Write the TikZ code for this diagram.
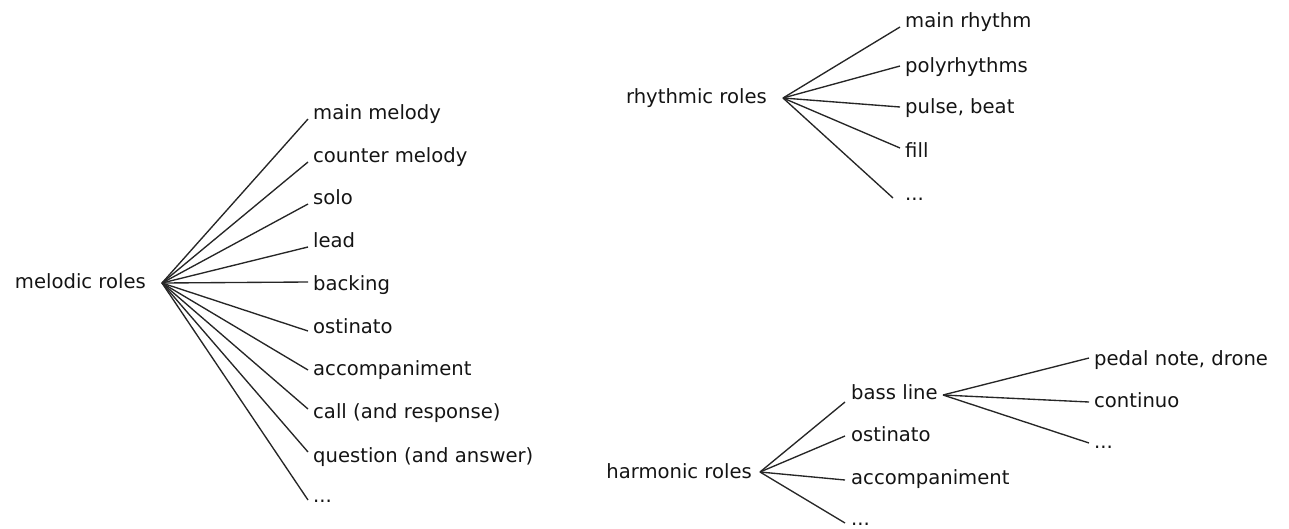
\documentclass[tikz,border=0pt]{standalone}
\usepackage{fontspec}
\setmainfont{DejaVu Sans}
\begin{document}
\begin{tikzpicture}[x=1pt,y=-1pt,
  lbl/.style={font=\fontsize{19.6}{23}\selectfont, text=black!92, inner ysep=0pt, inner xsep=5pt, anchor=base west},
  par/.style={font=\fontsize{19.6}{23}\selectfont, text=black!92, inner ysep=0pt, anchor=base east},
  edge/.style={draw=black!85, line width=1.35pt}]
\useasboundingbox (0,0) rectangle (1289,528);
% ---------- melodic ----------
\coordinate (mh) at (162,283);
\node[par, inner xsep=16pt] (mel) at (162,288) {melodic roles};
\node[lbl] (m1) at (308,119) {main melody};
\node[lbl] (m2) at (308,162) {counter melody};
\node[lbl] (m3) at (308,204) {solo};
\node[lbl] (m4) at (308,247) {lead};
\node[lbl] (m5) at (308,290) {backing};
\node[lbl] (m6) at (308,333) {ostinato};
\node[lbl] (m7) at (308,375) {accompaniment};
\node[lbl] (m8) at (308,418) {call (and response)};
\node[lbl] (m9) at (308,462) {question (and answer)};
\node[lbl] (m10) at (308,502) {...};
\foreach \n/\dy in {m1/0,m2/0,m3/0,m4/0,m5/8,m6/2,m7/5,m8/9,m9/10,m10/2}
  \draw[edge] (mh) -- ([yshift=\dy pt]\n.base west);
% ---------- rhythmic ----------
\coordinate (rh) at (783,98);
\node[par, inner xsep=16pt] (rhy) at (783,103) {rhythmic roles};
\node[lbl] (r1) at (900,27) {main rhythm};
\node[lbl] (r2) at (900,72) {polyrhythms};
\node[lbl] (r3) at (900,113) {pulse, beat};
\node[lbl] (r4) at (900,157) {fill};
\node[lbl] (r5) at (900,200) {...};
\foreach \n/\dx/\dy in {r1/0/0,r2/0/6,r3/0/6,r4/0/9,r5/-7/2}
  \draw[edge] (rh) -- ([xshift=\dx pt, yshift=\dy pt]\n.base west);
% ---------- harmonic ----------
\coordinate (hh) at (760,472);
\node[par, inner xsep=8pt] (har) at (760,478) {harmonic roles};
\node[lbl, inner xsep=6pt] (h1) at (845,399) {bass line};
\node[lbl, inner xsep=6pt] (h2) at (845,441) {ostinato};
\node[lbl, inner xsep=6pt] (h3) at (845,484) {accompaniment};
\node[lbl, inner xsep=6pt] (h4) at (845,525) {...};
\foreach \n/\dy in {h1/-3,h2/5,h3/4,h4/2}
  \draw[edge] (hh) -- ([yshift=\dy pt]\n.base west);
% ---------- bass line ----------
\coordinate (bh) at (943,395);
\node[lbl] (b1) at (1089,365) {pedal note, drone};
\node[lbl] (b2) at (1089,407) {continuo};
\node[lbl] (b3) at (1089,448) {...};
\foreach \n/\dy in {b1/7,b2/5,b3/5}
  \draw[edge] (bh) -- ([yshift=\dy pt]\n.base west);
\end{tikzpicture}
\end{document}
